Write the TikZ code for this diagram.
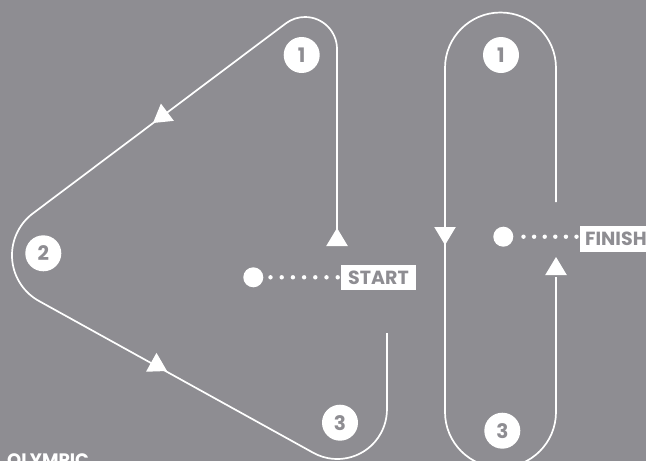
\documentclass[tikz,border=0pt]{standalone}
\usepackage{fontspec}
\setmainfont{Poppins}
\definecolor{bg}{RGB}{142,141,146}
\begin{document}
\begin{tikzpicture}[x=1pt,y=-1pt,
  track/.style={draw=white,line width=1.7pt},
  num/.style={circle,fill=white,text=bg,minimum size=36pt,inner sep=0pt,font=\fontsize{20}{24}\selectfont\bfseries},
  lbl/.style={fill=white,text=bg,inner sep=0pt,font=\fontsize{19}{23}\selectfont\bfseries},
  bigdot/.style={circle,fill=white,minimum size=20pt,inner sep=0pt},
  dots/.style={draw=white,line width=4.4pt,line cap=round},
  tri/.pic={\fill[white] (0,0) -- (-18,-10.8) -- (-18,10.8) -- cycle;}]
\fill[bg] (0,0) rectangle (646,461);
\useasboundingbox (0,0) rectangle (646,461);
% left course
\draw[track] (337,245.5) -- (337,49) arc[start angle=0,end angle=-126.87,radius=32]
  -- (32.9,213.4) arc[start angle=233.13,end angle=119,radius=52.3]
  -- (313.3,452.8) arc[start angle=119,end angle=0,radius=49.6] -- (387,333);
\pic[rotate=90] at (337,228) {tri};
\pic[rotate=-143.13] at (153,123) {tri};
\pic[rotate=-29] at (167,371) {tri};
% right course
\draw[track] (556,202) -- (556,68) arc[start angle=0,end angle=-180,radius=55.5]
  -- (445,412) arc[start angle=180,end angle=0,radius=55.5] -- (556,277);
\pic[rotate=-90] at (445,245) {tri};
\pic[rotate=90] at (556,257) {tri};
% numbers
\node[num] (l1) at (301.7,55) {1};
\node[num] (l2) at (43.3,253.3) {2};
\node[num] (l3) at (340,422.7) {3};
\node[num] (r1) at (501,55) {1};
\node[num] (r3) at (502.3,430.7) {3};
% start / finish
\node[bigdot] (sdot) at (253.3,277.3) {};
\node[lbl,minimum width=75pt,minimum height=25pt] (start) at (378.5,277.5) {START};
\draw[dots,dash pattern=on 0pt off 11.2pt,shorten <=7pt,shorten >=2pt] (sdot.east) -- (start.west |- sdot.east);
\node[bigdot] (fdot) at (503.3,236.7) {};
\node[lbl,anchor=west,minimum height=26.6pt,minimum width=75pt,inner xsep=5pt,align=left] (finish) at (580,239) {FINISH\hspace*{10pt}};
\draw[dots,dash pattern=on 0pt off 10.6pt,shorten <=10pt,shorten >=2pt] (fdot.east) -- (finish.west |- fdot.east);
% cut-off caption
\node[anchor=base west,text=white,inner sep=0pt,font=\fontsize{18}{20}\selectfont\bfseries] (olym) at (7,466) {OLYMPIC};
\end{tikzpicture}
\end{document}
